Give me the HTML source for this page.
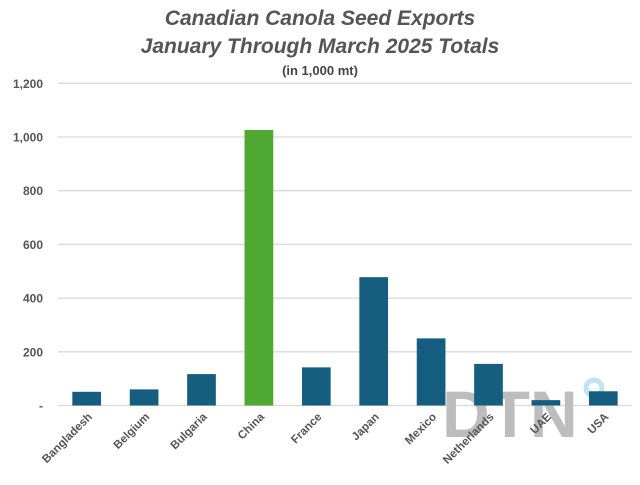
<!DOCTYPE html>
<html><head><meta charset="utf-8"><style>
body{margin:0;background:#fff;}
svg{font-family:"Liberation Sans",sans-serif;}
</style></head><body>
<svg width="640" height="480">
<text x="320" y="25" text-anchor="middle" font-size="21" font-weight="bold" font-style="italic" fill="#555">Canadian Canola Seed Exports</text>
<text x="320" y="53" text-anchor="middle" font-size="21" font-weight="bold" font-style="italic" fill="#555">January Through March 2025 Totals</text>
<text x="320" y="75" text-anchor="middle" font-size="13" font-weight="bold" fill="#444">(in 1,000 mt)</text>
<g id="grid"></g>
<g id="wm">
<text x="442" y="437" font-size="66" font-weight="bold" fill="#bdbdbd">DTN</text>
<circle cx="594" cy="388" r="8" fill="none" stroke="#bfe3f3" stroke-width="5"/>
</g>
<g id="bars"></g>
<g id="xl"></g>
</svg>
<script>
const categories=["Bangladesh","Belgium","Bulgaria","China","France","Japan","Mexico","Netherlands","UAE","USA"];
const values=[51,60,117,1026,142,478,250,155,20,53];
const tickValues=[0,200,400,600,800,1000,1200];
const tickLabels=["-","200","400","600","800","1,000","1,200"];
const NS="http://www.w3.org/2000/svg";
const x0=58,x1=632,y0=405.5,y1=83.3,ymax=1200;
const bw=(x1-x0)/categories.length;
const y=v=>y0-(v/ymax)*(y0-y1);
const xc=i=>x0+bw*(i+0.5);
function mk(t,a,p){const e=document.createElementNS(NS,t);for(const k in a)e.setAttribute(k,a[k]);p.appendChild(e);return e;}
const g=document.getElementById('grid');
tickValues.forEach((v,i)=>{
 const l=mk('line',{x1:x0,x2:x1,y1:y(v),y2:y(v),stroke:'#d9d9d9','stroke-width':1.3},g);
 
 
 const t=mk('text',{x:43,y:y(v)+4.5,'text-anchor':'end','font-size':12,'font-weight':'bold',fill:'#555'},g);
 t.textContent=tickLabels[i];
 
 
});
const b=document.getElementById('bars'),xl=document.getElementById('xl');
categories.forEach((c,i)=>{
 const w=bw*0.5;
 const r=mk('rect',{x:xc(i)-w/2,y:y(values[i]),width:w,height:y0-y(values[i]),fill:c==="China"?'#4fa831':'#165e80'},b);
 
 
 const t=mk('text',{x:xc(i)+6,y:y0+12,'text-anchor':'end','font-size':11.5,'font-weight':'bold',fill:'#555',transform:`rotate(-45 ${xc(i)+6} ${y0+12})`},xl);
 t.textContent=c;
 
 
});
</script>
</body></html>
